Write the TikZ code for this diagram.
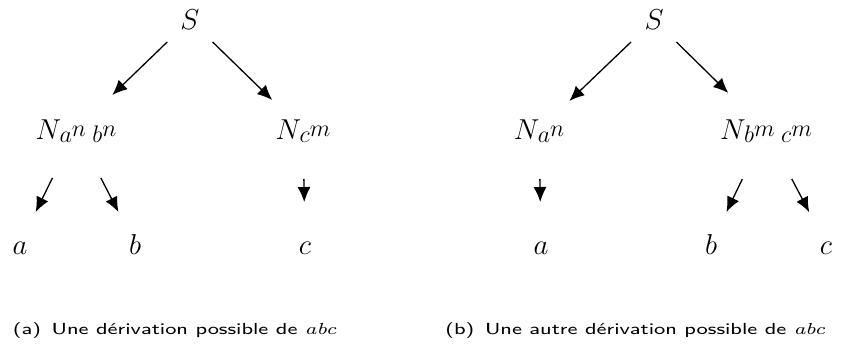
\documentclass[tikz,border=0pt]{standalone}
\usepackage{fontspec}
\usepackage{graphicx}
\usetikzlibrary{arrows.meta}
\newcommand{\mysubsup}[2]{\lower1.5pt\hbox{\fontsize{12}{14}\selectfont$#1$}\raise1.5pt\hbox{\fontsize{12}{14}\selectfont$#2$}}
\newcommand{\mycaption}[1]{\scalebox{1.32}[1]{#1}}
\begin{document}
\begin{tikzpicture}[x=0.5pt,y=-0.5pt,
  sym/.style={inner sep=0pt, text height=10pt, text depth=0pt, font=\fontsize{15.5}{18}\selectfont},
  arr/.style={-{Latex[length=7.5pt,width=6.5pt]}, line width=0.65pt},
  captext/.style={anchor=base west, inner sep=0pt, font=\sffamily\fontsize{8}{10}\selectfont}]
\useasboundingbox (0,0) rectangle (866,347);
% left tree
\node[sym] (S1) at (190,20) {$S$};
\node[sym] (Nab) at (76,130) {$N\mkern-1mu\mysubsup{a}{n}\mkern4mu\mysubsup{b}{n}$};
\node[sym] (Nc) at (303,130) {$N\mkern-1mu\mysubsup{c}{m}$};
\node[sym] (a1) at (20,244) {$a$};
\node[sym] (b1) at (135,244) {$b$};
\node[sym] (c1) at (305,244) {$c$};
\draw[arr, shorten <=15.8pt, shorten >=25.2pt] (S1.center) -- (Nab.center);
\draw[arr, shorten <=15.8pt, shorten >=21.5pt] (S1.center) -- (Nc.center);
\draw[arr, shorten <=26.7pt, shorten >=17.8pt] (Nab.center) -- (a1.center);
\draw[arr, shorten <=27pt, shorten >=18pt] (Nab.center) -- (b1.center);
\draw[arr, shorten <=24.5pt, shorten >=21pt] (Nc.center) -- (c1.center);
% right tree
\node[sym] (S2) at (654,20) {$S$};
\node[sym] (Na) at (539,130) {$N\mkern-1mu\mysubsup{a}{n}$};
\node[sym] (Nbc) at (766,130) {$N\mkern-1mu\mysubsup{b}{m}\mkern4mu\mysubsup{c}{m}$};
\node[sym] (a2) at (541,244) {$a$};
\node[sym] (b2) at (711,244) {$b$};
\node[sym] (c2) at (826,244) {$c$};
\draw[arr, shorten <=15.9pt, shorten >=21pt] (S2.center) -- (Na.center);
\draw[arr, shorten <=15.7pt, shorten >=26.4pt] (S2.center) -- (Nbc.center);
\draw[arr, shorten <=24.5pt, shorten >=21pt] (Na.center) -- (a2.center);
\draw[arr, shorten <=27.2pt, shorten >=17.8pt] (Nbc.center) -- (b2.center);
\draw[arr, shorten <=27.7pt, shorten >=18pt] (Nbc.center) -- (c2.center);
% captions
\node[captext] (capa) at (12.5,334) {\mycaption{(a)\enspace Une dérivation possible de {\rmfamily\itshape abc}}};
\node[captext] (capb) at (445,334) {\mycaption{(b)\enspace Une autre dérivation possible de {\rmfamily\itshape abc}}};
\end{tikzpicture}
\end{document}
